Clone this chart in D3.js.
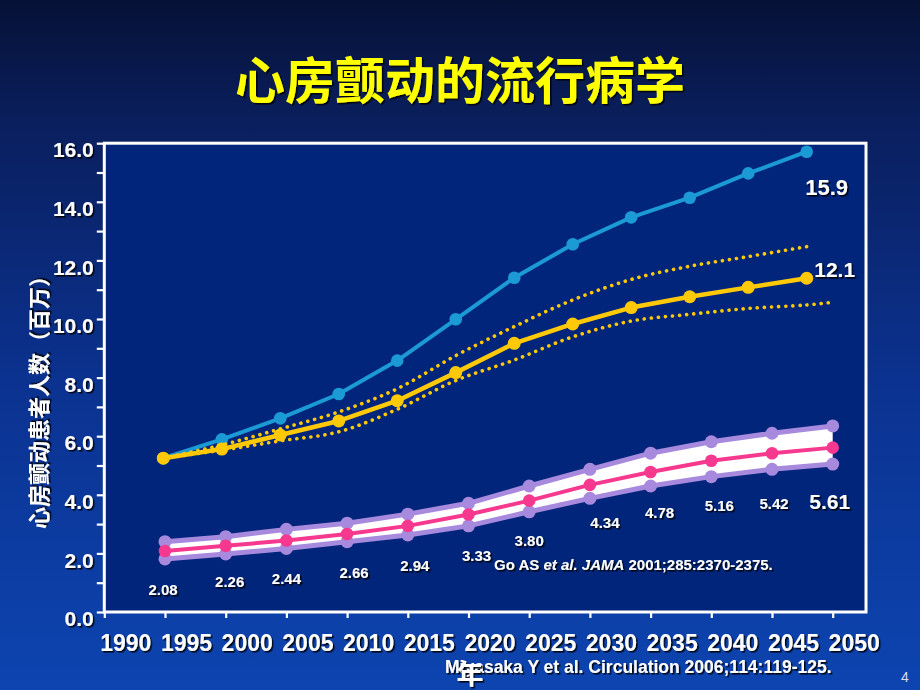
<!DOCTYPE html>
<html><head><meta charset="utf-8">
<script src="https://cdn.jsdelivr.net/npm/d3@7"></script>
<style>html,body{margin:0;padding:0;background:#0a2a80;overflow:hidden}svg{display:block}</style>
</head><body><div id="chart"></div>
<script>
// ---------- data ----------
const titleText = "心房颤动的流行病学";
const yAxisTitle = "心房颤动患者人数（百万）";
const xTickYears = [1990,1995,2000,2005,2010,2015,2020,2025,2030,2035,2040,2045,2050];
const yTickValues = [0,1,2,3,4,5,6,7,8,9,10,11,12,13,14,15,16];

// Go AS et al. (ATRIA) projection, millions
const goYears  = [1995,2000,2005,2010,2015,2020,2025,2030,2035,2040,2045,2050];
const goMid    = [2.08,2.26,2.44,2.66,2.94,3.33,3.80,4.34,4.78,5.16,5.42,5.61];
const goUpper  = [2.40,2.57,2.82,3.03,3.34,3.71,4.30,4.87,5.42,5.81,6.10,6.35];
const goLower  = [1.81,1.98,2.17,2.40,2.63,2.94,3.42,3.88,4.30,4.62,4.87,5.05];
const goLabels = ["2.08","2.26","2.44","2.66","2.94","3.33","3.80","4.34","4.78","5.16","5.42","5.61"];

// Miyasaka Y et al. projection (overlaid figure), millions
const miyaYears      = [1995,2000,2005,2010,2015,2020,2025,2030,2035,2040,2045,2050];
const miyaIncreasing = [5.25,5.89,6.61,7.44,8.58,9.99,11.41,12.55,13.47,14.14,14.97,15.71];
const miyaConstant   = [5.25,5.56,6.04,6.52,7.21,8.17,9.17,9.83,10.39,10.76,11.08,11.39];
const miyaCiUpperYears = [1995,2000,2005,2010,2015,2020,2025,2030,2035,2040,2045,2050];
const miyaCiUpper      = [5.25,5.70,6.25,6.83,7.62,8.75,9.74,10.65,11.35,11.80,12.13,12.47];
const miyaCiLowerYears = [1995,2000,2005,2010,2015,2020,2025,2030,2035,2040,2045,2050,2052];
const miyaCiLower      = [5.25,5.52,5.84,6.15,6.92,7.90,8.60,9.39,9.93,10.16,10.36,10.48,10.56];
const miyaEndLabels = ["15.9","12.1"];

const citeGo = ["Go AS ", "et al. JAMA", " 2001;285:2370-2375."];
const citeMiya = "Miyasaka Y et al. Circulation 2006;114:119-125.";
const xAxisUnit = "年";
const pageNumber = "4";

// ---------- layout ----------
const W = 920, H = 690;
const labelNudge = [[-2,38],[4,36],[0,38],[7,38],[7,40],[8,41],[0,40],[15,38],[9,41],[8,45],[2,50],[-3,54]];

const svg = d3.select("#chart").append("svg").attr("width", W).attr("height", H)
  .style("font-family", "'Liberation Sans', Arial, sans-serif");

const defs = svg.append("defs");
const bg = defs.append("linearGradient").attr("id","bg").attr("x1",0).attr("y1",0).attr("x2",0).attr("y2",1);
bg.append("stop").attr("offset","0%").attr("stop-color","#061136");
bg.append("stop").attr("offset","18%").attr("stop-color","#0a1f5e");
bg.append("stop").attr("offset","55%").attr("stop-color","#0b3290");
bg.append("stop").attr("offset","100%").attr("stop-color","#0d44b0");
const sh = defs.append("filter").attr("id","shadow").attr("x","-20%").attr("y","-20%").attr("width","140%").attr("height","140%");
sh.append("feDropShadow").attr("dx",1.6).attr("dy",1.6).attr("stdDeviation",0.4).attr("flood-color","#000").attr("flood-opacity",0.85);

svg.append("rect").attr("width",W).attr("height",H).attr("fill","url(#bg)");

// scales
const y = d3.scaleLinear().domain([0,16]).range([612,143.2]);
const xAxisScale = d3.scaleLinear().domain([1990,2050]).range([104.3,832.7]);
const xOverlay = d3.scaleLinear().domain([1995,2050]).range([163.3,806.7]);

// title
svg.append("text").text(titleText)
  .attr("x", 460).attr("y", 99).attr("text-anchor","middle")
  .style("font-family","'Noto Sans CJK SC', sans-serif").style("font-weight","bold")
  .style("font-size","50px").attr("fill","#ffff00").attr("filter","url(#shadow)");

// plot box
const boxRight = 866;
svg.append("rect")
  .attr("x", xAxisScale(1990)).attr("y", y(16))
  .attr("width", boxRight - xAxisScale(1990)).attr("height", y(0) - y(16))
  .attr("fill","#00257a").attr("stroke","#ffffff").attr("stroke-width",3);

// y axis
const yAx = svg.append("g").attr("transform", `translate(${xAxisScale(1990)-0.5},0)`)
  .call(d3.axisLeft(y).tickValues(yTickValues).tickSize(7).tickPadding(3)
    .tickFormat(d => d % 2 === 0 ? d3.format(".1f")(d) : ""));
yAx.select(".domain").remove();
yAx.selectAll("line").attr("stroke","#fff").attr("stroke-width",2.2);
yAx.selectAll("text").attr("fill","#fff").attr("dy","0.32em").attr("transform","translate(0,7)")
  .style("font-size","21px").style("font-weight","bold")
  .style("font-family","'Liberation Sans', Arial, sans-serif").attr("filter","url(#shadow)");

// x axis ticks
const xAx = svg.append("g").attr("transform", `translate(0,${y(0)})`)
  .call(d3.axisBottom(xAxisScale).tickValues(xTickYears).tickSize(6).tickFormat(""));
xAx.select(".domain").remove();
xAx.selectAll("line").attr("stroke","#fff").attr("stroke-width",2.2);

// x axis labels (offset row, as on the slide)
const xLab = svg.append("g").attr("transform", `translate(21,643)`)
  .call(d3.axisBottom(xAxisScale).tickValues(xTickYears).tickSize(0).tickPadding(0).tickFormat(d3.format("d")));
xLab.select(".domain").remove();
xLab.selectAll("text").attr("fill","#fff").attr("y",0).attr("dy","0.36em")
  .style("font-size","23px").style("font-weight","bold")
  .style("font-family","'Liberation Sans', Arial, sans-serif").attr("filter","url(#shadow)");

// y axis title
svg.append("text").text(yAxisTitle)
  .attr("transform","translate(37,397) rotate(-90)")
  .attr("text-anchor","middle").attr("dominant-baseline","central")
  .style("font-family","'Noto Sans CJK SC', sans-serif").style("font-weight","bold")
  .style("font-size","22px").attr("fill","#fff").attr("filter","url(#shadow)");

// ---------- Go AS band ----------
const goData = goYears.map((yr,i)=>({yr, mid:goMid[i], up:goUpper[i], lo:goLower[i]}));
svg.append("path").datum(goData)
  .attr("d", d3.area().x(d=>xAxisScale(d.yr)).y0(d=>y(d.lo)).y1(d=>y(d.up)))
  .attr("fill","#ffffff");
const purple = "#a78ade";
["up","lo"].forEach(k=>{
  svg.append("path").datum(goData)
    .attr("d", d3.line().x(d=>xAxisScale(d.yr)).y(d=>y(d[k])))
    .attr("fill","none").attr("stroke",purple).attr("stroke-width",5).attr("stroke-linejoin","round");
  svg.append("g").selectAll("circle").data(goData).join("circle")
    .attr("cx",d=>xAxisScale(d.yr)).attr("cy",d=>y(d[k])).attr("r",6.5).attr("fill",purple);
});
const pink = "#f7388f";
svg.append("path").datum(goData)
  .attr("d", d3.line().x(d=>xAxisScale(d.yr)).y(d=>y(d.mid)))
  .attr("fill","none").attr("stroke",pink).attr("stroke-width",4).attr("stroke-linejoin","round");
svg.append("g").selectAll("circle").data(goData).join("circle")
  .attr("cx",d=>xAxisScale(d.yr)).attr("cy",d=>y(d.mid)).attr("r",6.3).attr("fill",pink);

// value labels
svg.append("g").selectAll("text").data(goData).join("text")
  .text((d,i)=>goLabels[i])
  .attr("x",(d,i)=>xAxisScale(d.yr)+labelNudge[i][0])
  .attr("y",(d,i)=>y(d.mid)+labelNudge[i][1])
  .attr("text-anchor","middle").attr("dominant-baseline","central")
  .style("font-weight","bold")
  .style("font-size",(d,i)=> i===goData.length-1 ? "21px" : "15px")
  .attr("fill","#fff").attr("filter","url(#shadow)");

// ---------- Miyasaka lines ----------
const blue = "#1b9ad6", gold = "#ffc908";
const mInc = miyaYears.map((yr,i)=>({yr, v:miyaIncreasing[i]}));
const mCon = miyaYears.map((yr,i)=>({yr, v:miyaConstant[i]}));
const mUp = miyaCiUpperYears.map((yr,i)=>({yr, v:miyaCiUpper[i]}));
const mLo = miyaCiLowerYears.map((yr,i)=>({yr, v:miyaCiLower[i]}));
const lineO = d3.line().x(d=>xOverlay(d.yr)).y(d=>y(d.v));

svg.append("path").datum(mInc).attr("d",lineO)
  .attr("fill","none").attr("stroke",blue).attr("stroke-width",4).attr("stroke-linejoin","round");
svg.append("g").selectAll("circle").data(mInc).join("circle")
  .attr("cx",d=>xOverlay(d.yr)).attr("cy",d=>y(d.v)).attr("r",6.3).attr("fill",blue);

[mUp, mLo].forEach(ser=>{
  svg.append("path").datum(ser).attr("d", d3.line().curve(d3.curveCatmullRom.alpha(0.5)).x(d=>xOverlay(d.yr)).y(d=>y(d.v)))
    .attr("fill","none").attr("stroke",gold).attr("stroke-width",3.6)
    .attr("stroke-linecap","round").attr("stroke-dasharray","0.1 7");
});

svg.append("path").datum(mCon).attr("d",lineO)
  .attr("fill","none").attr("stroke",gold).attr("stroke-width",4.5).attr("stroke-linejoin","round");
svg.append("g").selectAll("circle").data(mCon).join("circle")
  .attr("cx",d=>xOverlay(d.yr)).attr("cy",d=>y(d.v)).attr("r",6.5).attr("fill",gold);

// end labels
const endLast = miyaYears.length-1;
svg.append("text").text(miyaEndLabels[0])
  .attr("x", xOverlay(miyaYears[endLast])+20).attr("y", y(miyaIncreasing[endLast])+36)
  .attr("text-anchor","middle").attr("dominant-baseline","central")
  .style("font-weight","bold").style("font-size","22px").attr("fill","#fff").attr("filter","url(#shadow)");
svg.append("text").text(miyaEndLabels[1])
  .attr("x", xOverlay(miyaYears[endLast])+28).attr("y", y(miyaConstant[endLast])-9)
  .attr("text-anchor","middle").attr("dominant-baseline","central")
  .style("font-weight","bold").style("font-size","21px").attr("fill","#fff").attr("filter","url(#shadow)");

// ---------- citations ----------
const cg = svg.append("text").attr("x",494).attr("y",564).attr("dominant-baseline","central")
  .style("font-weight","bold").style("font-size","15px").attr("fill","#fff").attr("filter","url(#shadow)");
cg.append("tspan").text(citeGo[0]);
cg.append("tspan").text(citeGo[1]).style("font-style","italic");
cg.append("tspan").text(citeGo[2]);

svg.append("text").text(citeMiya).attr("x",445).attr("y",667).attr("dominant-baseline","central")
  .style("font-weight","bold").style("font-size","17.5px").attr("fill","#fff").attr("filter","url(#shadow)");
svg.append("text").text(xAxisUnit).attr("x",470).attr("y",672)
  .attr("text-anchor","middle").attr("dominant-baseline","central")
  .style("font-family","'Noto Sans CJK SC', sans-serif").style("font-weight","bold")
  .style("font-size","27px").attr("fill","#fff").attr("filter","url(#shadow)");
svg.append("text").text(pageNumber).attr("x",905).attr("y",677)
  .attr("text-anchor","middle").attr("dominant-baseline","central")
  .style("font-size","14px").attr("fill","#d8dcea");
</script></body></html>
